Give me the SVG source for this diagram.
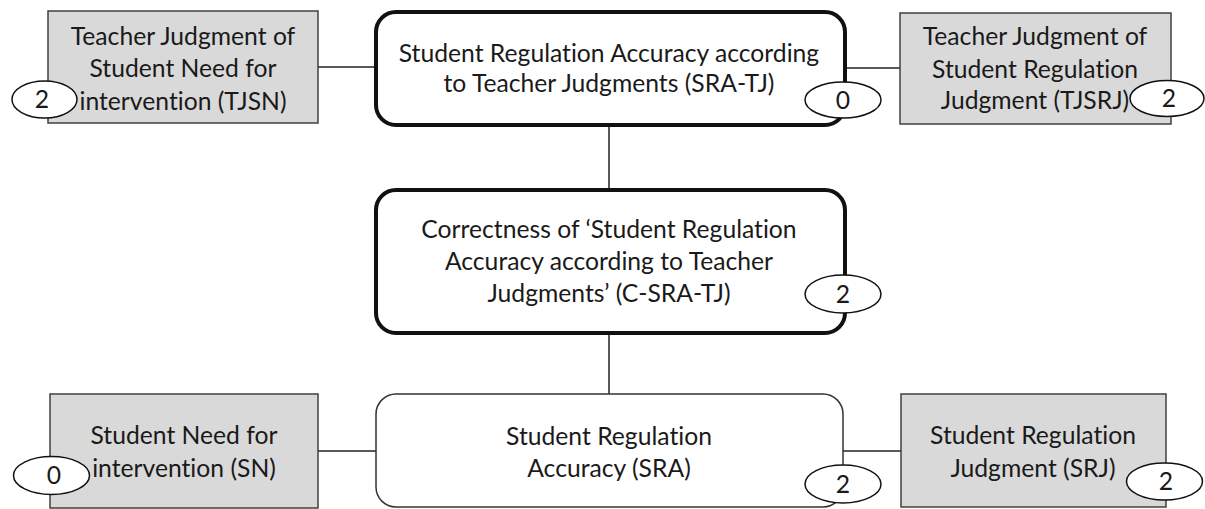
<svg xmlns="http://www.w3.org/2000/svg" width="1205" height="509" viewBox="0 0 1205 509">
<style>
.t{font-family:Lato,"Liberation Sans",sans-serif;font-size:24.7px;fill:#1a1a1a;text-anchor:middle;font-variant-ligatures:none;font-feature-settings:"liga" 0}
.g{fill:#d9d9d9;stroke:#404040;stroke-width:1.5}
.b{fill:#fff;stroke:#111;stroke-width:4}
.w{fill:#fff;stroke:#333;stroke-width:1.5}
.e{fill:#fff;stroke:#111;stroke-width:1.5}
.c{stroke:#222;stroke-width:1.5;fill:none}
</style>
<rect width="1205" height="509" fill="#fff"/>
<g id="connectors">
<line class="c" x1="318" y1="67" x2="376" y2="67"/>
<line class="c" x1="845" y1="68" x2="900" y2="68"/>
<line class="c" x1="609" y1="125" x2="609" y2="190"/>
<line class="c" x1="609" y1="333" x2="609" y2="394"/>
<line class="c" x1="318" y1="451" x2="376" y2="451"/>
<line class="c" x1="843" y1="451" x2="901" y2="451"/>
</g>
<g id="TJSN">
<rect class="g" x="48" y="11" width="270" height="112"/>
<text class="t" x="183" y="45">Teacher Judgment of</text>
<text class="t" x="183" y="77">Student Need for</text>
<text class="t" x="183" y="110">intervention (TJSN)</text>
<ellipse class="e" cx="44.5" cy="99.5" rx="32.5" ry="18.5"/>
<text class="t" x="42" y="108">2</text>
</g>
<g id="SRA-TJ">
<rect class="b" x="376" y="12" width="469" height="113" rx="20"/>
<text class="t" x="609" y="62">Student Regulation Accuracy according</text>
<text class="t" x="609" y="92">to Teacher Judgments (SRA-TJ)</text>
<ellipse class="e" cx="843" cy="100" rx="38" ry="18"/>
<text class="t" x="843" y="109">0</text>
</g>
<g id="TJSRJ">
<rect class="g" x="900" y="13" width="271" height="111"/>
<text class="t" x="1035" y="45">Teacher Judgment of</text>
<text class="t" x="1035" y="78">Student Regulation</text>
<text class="t" x="1035" y="109">Judgment (TJSRJ)</text>
<ellipse class="e" cx="1167" cy="98.5" rx="37" ry="18"/>
<text class="t" x="1169" y="107">2</text>
</g>
<g id="C-SRA-TJ">
<rect class="b" x="376" y="190" width="469" height="143" rx="20"/>
<text class="t" x="609" y="238">Correctness of ‘Student Regulation</text>
<text class="t" x="609" y="270">Accuracy according to Teacher</text>
<text class="t" x="609" y="302">Judgments’ (C-SRA-TJ)</text>
<ellipse class="e" cx="843" cy="294" rx="38" ry="19"/>
<text class="t" x="843" y="303">2</text>
</g>
<g id="SN">
<rect class="g" x="50" y="394" width="268" height="114"/>
<text class="t" x="184" y="444">Student Need for</text>
<text class="t" x="184" y="477">intervention (SN)</text>
<ellipse class="e" cx="51.5" cy="475.5" rx="38" ry="19"/>
<text class="t" x="54" y="484">0</text>
</g>
<g id="SRA">
<rect class="w" x="376" y="394" width="467" height="113" rx="20"/>
<text class="t" x="609" y="445">Student Regulation</text>
<text class="t" x="609" y="477">Accuracy (SRA)</text>
<ellipse class="e" cx="843" cy="484" rx="38" ry="19"/>
<text class="t" x="843" y="493">2</text>
</g>
<g id="SRJ">
<rect class="g" x="901" y="394" width="265" height="113"/>
<text class="t" x="1033" y="444">Student Regulation</text>
<text class="t" x="1033" y="477">Judgment (SRJ)</text>
<ellipse class="e" cx="1164.5" cy="481.5" rx="38" ry="18.5"/>
<text class="t" x="1166" y="490">2</text>
</g>
</svg>
